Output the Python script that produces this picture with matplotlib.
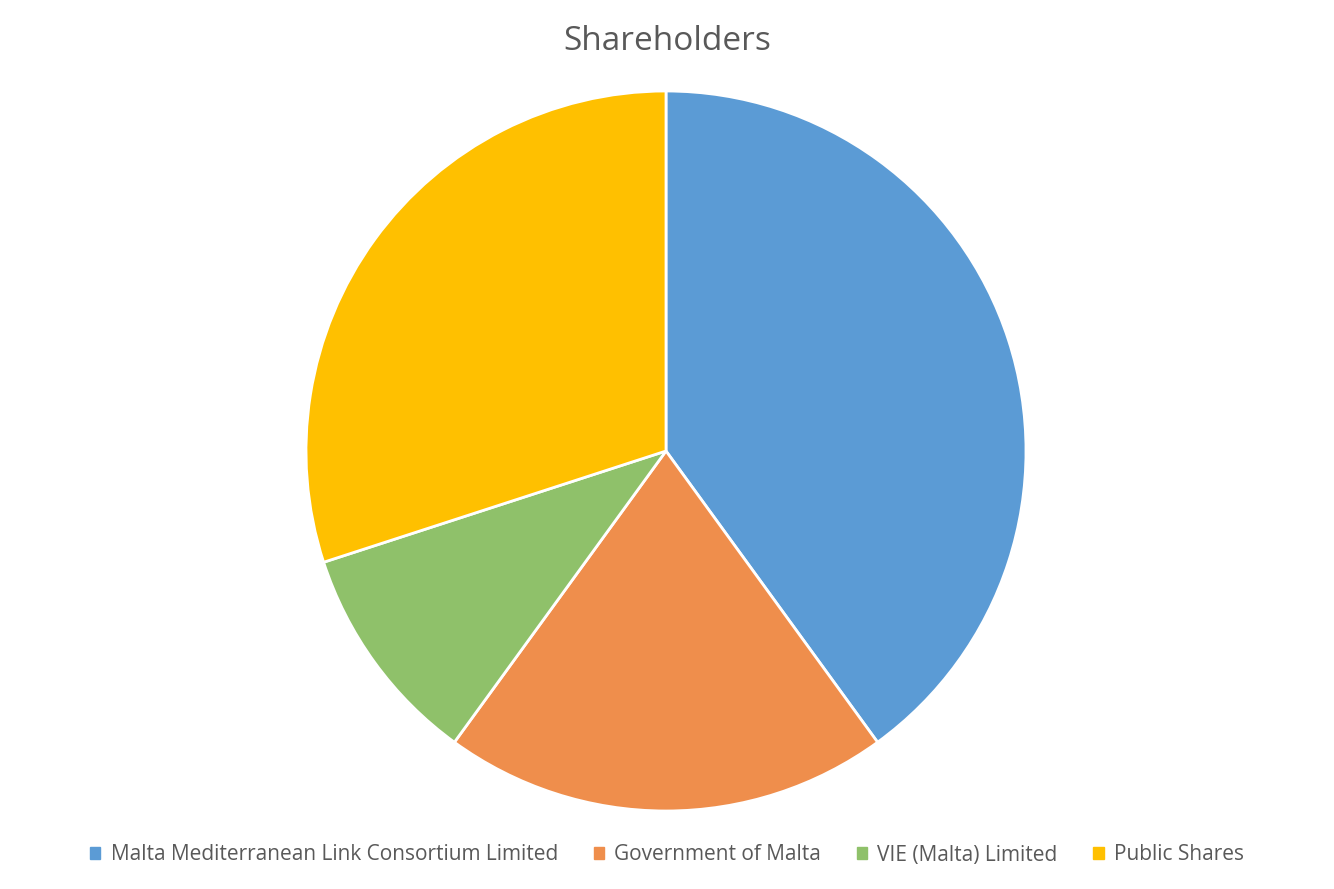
import matplotlib
matplotlib.use("Agg")
import matplotlib.pyplot as plt
from matplotlib.patches import Patch

# Shareholder split (percent)
labels = ["Malta Mediterranean Link Consortium Limited", "Government of Malta",
          "VIE (Malta) Limited", "Public Shares"]
shares = [40, 20, 10, 30]
colors = ["#5B9BD5", "#EF8E4C", "#8FC16A", "#FFC000"]

plt.rcParams['font.family'] = ['Open Sans', 'DejaVu Sans']

fig = plt.figure(figsize=(13.34, 8.89), dpi=100)
W, H = 1334, 889
cx, cy, r = 666, 889 - 451, 360
ax = fig.add_axes([(cx - r) / W, (cy - r) / H, 2 * r / W, 2 * r / H])

ax.pie(shares, colors=colors, startangle=90, counterclock=False, radius=1,
       wedgeprops=dict(edgecolor="white", linewidth=2))
ax.set_xlim(-1.0, 1.0)
ax.set_ylim(-1.0, 1.0)
ax.set_aspect("equal")
ax.axis("off")

fig.text(0.5, 1 - 41 / H, "Shareholders", ha="center", va="center",
         fontsize=24, color="#595959")

handles = [Patch(facecolor=c, edgecolor=c) for c in colors]
fig.legend(handles, labels, loc="center", bbox_to_anchor=(0.5, 1 - 855 / H),
           ncol=4, frameon=False, fontsize=15, labelcolor="#595959",
           handlelength=0.5, handleheight=0.5, handletextpad=0.5,
           columnspacing=1.7)

fig.savefig("out.png", dpi=100, facecolor="white")
